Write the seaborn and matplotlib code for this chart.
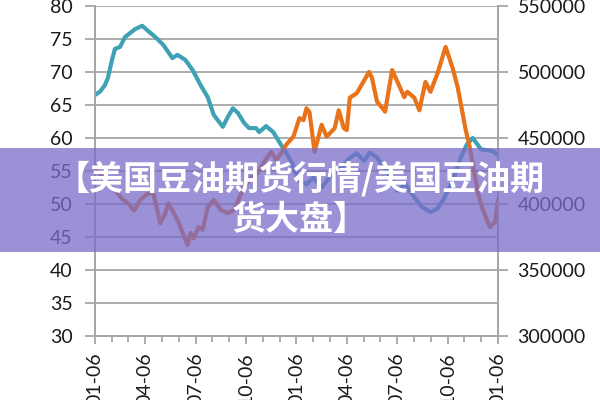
import matplotlib
matplotlib.use("Agg")
import matplotlib.pyplot as plt
import seaborn as sns
from matplotlib.patches import Rectangle
from matplotlib.ticker import MultipleLocator

# months since the first tick (01-06)
teal_months = [0.0, 0.3, 0.6, 0.78, 1.02, 1.2, 1.5, 1.8, 2.1, 2.4, 2.82, 3.18, 3.6, 4.08,
               4.62, 4.92, 5.4, 5.82, 6.3, 6.72, 7.08, 7.62, 7.92, 8.22, 8.52, 8.88, 9.18,
               9.6, 9.78, 10.2, 10.62, 10.98, 11.4, 11.7, 12.18, 12.6, 13.02, 13.5, 14.1,
               14.7, 15.18, 15.6, 16.02, 16.38, 16.8, 17.4, 18.0, 18.48, 19.02, 19.5,
               19.98, 20.4, 20.82, 21.3, 21.78, 22.14, 22.5, 22.98, 23.7, 24.0]
teal_values = [66.5, 67.0, 68.0, 69.1, 71.8, 73.5, 73.8, 75.3, 75.9, 76.5, 77.0, 76.2, 75.3,
               74.1, 72.1, 72.6, 71.8, 70.3, 68.0, 66.2, 63.5, 61.7, 63.2, 64.5, 63.8, 62.3,
               61.5, 61.5, 60.9, 61.8, 60.9, 59.4, 57.7, 56.4, 53.5, 53.0, 54.0, 52.5, 54.5,
               55.5, 57.0, 57.7, 56.5, 57.8, 57.0, 55.0, 52.0, 53.0, 51.0, 49.5, 48.8, 49.3,
               51.0, 53.5, 57.0, 59.0, 60.0, 58.3, 58.0, 57.4]

orange_months = [0.0, 0.3, 0.78, 1.2, 1.62, 1.98, 2.34, 2.7, 3.12, 3.48, 3.9, 4.2, 4.38,
                 4.92, 5.52, 5.7, 5.88, 6.18, 6.42, 6.72, 7.08, 7.5, 7.92, 8.28, 8.52, 8.88,
                 9.3, 9.72, 10.02, 10.5, 10.8, 11.1, 11.4, 11.82, 12.18, 12.42, 12.6, 12.78,
                 13.08, 13.5, 13.8, 14.28, 14.52, 14.82, 15.0, 15.18, 15.6, 16.32, 16.5,
                 16.8, 17.28, 17.7, 18.42, 18.6, 19.02, 19.32, 19.68, 19.98, 20.4, 20.88,
                 21.3, 21.6, 22.08, 22.32, 22.8, 23.1, 23.52, 23.82, 24.0]
orange_values = [426000, 423500, 415000, 410500, 404000, 400500, 395000, 403000, 407500,
                 408500, 385500, 393000, 400500, 388000, 369000, 378000, 374000, 382500,
                 380500, 397500, 403000, 395500, 393000, 395500, 402500, 412500, 420000,
                 424000, 431000, 439500, 433500, 438500, 445000, 451000, 465000, 463500,
                 472500, 469500, 439500, 460000, 451000, 457500, 471000, 457500, 456000,
                 480500, 484000, 500000, 495500, 477500, 470000, 501500, 481000, 485000,
                 480500, 471000, 492500, 485000, 499000, 519000, 503000, 488500, 456000,
                 443000, 408500, 395500, 382500, 386500, 403000]

tick_labels = ["01-06", "04-06", "07-06", "10-06", "01-06", "04-06", "07-06", "10-06", "01-06"]

sns.set_style("white")
plt.rcParams['font.family'] = ['Lato', 'DejaVu Sans']

fig = plt.figure(figsize=(6, 4), dpi=100)
ax = fig.add_axes([0.158, 0.16, 0.672, 0.825])
ax2 = ax.twinx()

grey = "#a6a6a6"
sns.lineplot(x=teal_months, y=teal_values, ax=ax, color="#3fa2b4", linewidth=3.0)
sns.lineplot(x=orange_months, y=orange_values, ax=ax2, color="#e8731a", linewidth=3.0)

ax.set_xlim(0, 24)
ax.set_ylim(30, 80)
ax.set_yticks(range(30, 81, 5))
ax2.set_ylim(300000, 550000)
ax2.set_yticks(range(300000, 550001, 50000))
ax.set_xticks(range(0, 25, 3))
ax.set_xticklabels(tick_labels, rotation=90)
ax.xaxis.set_minor_locator(MultipleLocator(1))

ax.yaxis.grid(True, color=grey, linewidth=1.3)
ax.set_axisbelow(True)
for a in (ax, ax2):
    a.spines["top"].set_visible(False)
    for s in ("left", "right", "bottom"):
        a.spines[s].set_color(grey)
        a.spines[s].set_linewidth(1.3)
    a.tick_params(axis="both", which="both", colors=grey, labelcolor="#1a1a1a",
                  labelsize=14, width=1.3)
ax.tick_params(axis="y", length=7, direction="out", left=True, pad=9)
ax2.tick_params(axis="y", length=7, direction="out", right=True, pad=7)
ax.tick_params(axis="x", which="major", length=6, direction="out", bottom=True, pad=6)
ax.tick_params(axis="x", which="minor", length=4, direction="out", bottom=True)
ax.set_xlabel("")
ax.set_ylabel("")
ax2.set_ylabel("")

# overlay banner
fig.add_artist(Rectangle((0, 0.37), 1, 0.26, transform=fig.transFigure,
                         facecolor="#796cc9", alpha=0.75, edgecolor="none", zorder=10))
fig.text(0.5, 0.553, "【美国豆油期货行情/美国豆油期", ha="center", va="center",
         fontsize=24.5, color="white", fontweight="bold", zorder=11,
         family=['Noto Sans CJK SC', 'DejaVu Sans'])
fig.text(0.5, 0.452, "货大盘】", ha="center", va="center",
         fontsize=24.5, color="white", fontweight="bold", zorder=11,
         family=['Noto Sans CJK SC', 'DejaVu Sans'])

fig.savefig("out.png", dpi=100)
